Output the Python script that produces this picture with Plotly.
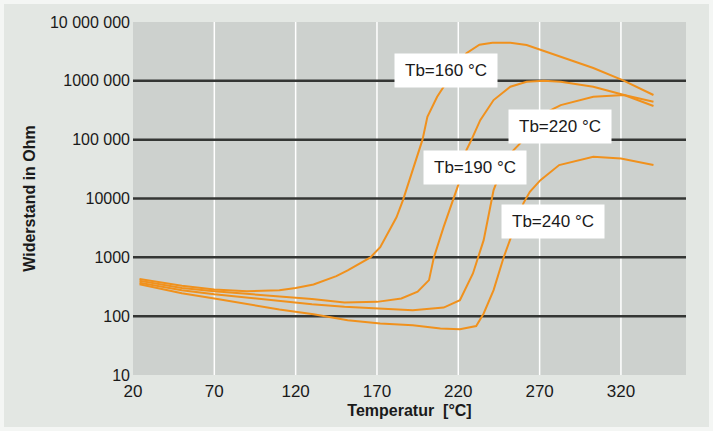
import math
import plotly.graph_objects as go

# --- data ---
t_160 = [24, 50, 70, 90, 110, 120, 131, 145, 152, 166, 172, 182, 186, 192, 198, 201, 207, 211, 218, 225, 233, 241, 252, 262, 272, 283, 303, 321, 340]
r_160 = [430, 330, 285, 265, 275, 300, 345, 480, 600, 1000, 1490, 4800, 9400, 30000, 100000, 245000, 537000, 794000, 1600000, 2940000, 4100000, 4450000, 4450000, 4070000, 3250000, 2570000, 1650000, 1030000, 574000]

t_190 = [24, 50, 70, 90, 110, 130, 150, 170, 185, 195, 202, 205, 211, 217, 221, 225, 228, 233.5, 241.7, 252, 262, 272.5, 283, 303, 322, 340]
r_190 = [400, 300, 265, 240, 220, 195, 170, 175, 200, 260, 410, 1000, 3300, 9400, 20500, 66500, 98000, 215000, 471000, 794000, 966000, 1000000, 966000, 794000, 574000, 373000]

t_220 = [24, 50, 70, 90, 110, 130, 150, 170, 192, 211, 221, 229, 235.6, 241.7, 248, 254, 258, 265, 272, 279, 283, 303, 322, 340]
r_220 = [370, 275, 235, 205, 180, 160, 145, 135, 126, 140, 187, 532, 1960, 13900, 40000, 66500, 86500, 180000, 270000, 340000, 387000, 537000, 574000, 441000]

t_240 = [24, 50, 70, 90, 110, 121, 131, 152, 172, 192, 209, 221, 231, 235.6, 241.7, 248, 252, 260, 264, 270.5, 282, 303, 320, 340]
r_240 = [350, 245, 200, 160, 130, 118, 108, 85, 75, 70, 62, 60, 68, 111, 277, 1020, 2100, 8260, 13000, 20500, 37000, 51000, 48000, 37000]

x_ticks = [20, 70, 120, 170, 220, 270, 320]
y_tickvals = [10, 100, 1000, 10000, 100000, 1000000, 10000000]
y_ticktext = ["10", "100", "1000", "10000", "100 000", "1000 000", "10 000 000"]

labels = ["Tb=160 °C", "Tb=220 °C", "Tb=190 °C", "Tb=240 °C"]
label_t = [212.6, 282.8, 230.5, 278.5]
label_r = [1.47e6, 1.70e5, 3.42e4, 4.13e3]

ORANGE = "#f0911d"
FONT = "Liberation Sans, Arial, sans-serif"
TXT = "#1a1a1a"

fig = go.Figure()
for t, r in [(t_160, r_160), (t_190, r_190), (t_220, r_220), (t_240, r_240)]:
    fig.add_trace(go.Scatter(x=t, y=r, mode="lines",
                             line=dict(color=ORANGE, width=2), hoverinfo="skip",
                             showlegend=False))

W, H = 713, 431
L, R, T, B = 133, 27, 22, 56
pw, ph = W - L - R, H - T - B

shapes = []
# outer frame (light grey panel with a thin white edge)
shapes.append(dict(type="rect", xref="paper", yref="paper", layer="below",
                   x0=(4 - L) / pw, x1=(W - 4 - L) / pw,
                   y0=-(H - 4 - (H - B)) / ph, y1=1 + (T - 4) / ph,
                   fillcolor="#e3e7e3", line=dict(width=0)))
# plot area
shapes.append(dict(type="rect", xref="paper", yref="paper", layer="below",
                   x0=0, x1=1, y0=0, y1=1, fillcolor="#cdd1ce", line=dict(width=0)))
# grid lines
for xv in x_ticks[1:]:
    shapes.append(dict(type="line", xref="x", yref="paper", x0=xv, x1=xv, y0=0, y1=1,
                       line=dict(color="white", width=1.5), layer="below"))
for yv in y_tickvals[1:-1]:
    shapes.append(dict(type="line", xref="paper", yref="y", x0=0, x1=1, y0=yv, y1=yv,
                       line=dict(color="#343634", width=2.5), layer="below"))

annotations = []
for txt, tx, ry in zip(labels, label_t, label_r):
    annotations.append(dict(x=tx, y=math.log10(ry), xref="x", yref="y", text=txt,
                            showarrow=False, bgcolor="white", width=100, height=31,
                            font=dict(family=FONT, size=17, color=TXT)))

fig.update_layout(
    width=W, height=H,
    margin=dict(l=L, r=R, t=T, b=B),
    paper_bgcolor="#f4f6f4",
    plot_bgcolor="rgba(0,0,0,0)",
    shapes=shapes,
    annotations=annotations,
    font=dict(family=FONT, color=TXT),
    hovermode=False,
    xaxis=dict(range=[20, 360], tickvals=x_ticks, showgrid=False, zeroline=False,
               ticks="", tickfont=dict(size=17, color=TXT), ticklabelstandoff=4,
               title=dict(text="<b>Temperatur  [°C]</b>", font=dict(size=16), standoff=4)),
    yaxis=dict(type="log", range=[1, 7], tickvals=y_tickvals, ticktext=y_ticktext,
               showgrid=False, zeroline=False, ticks="", ticklabelstandoff=2,
               tickfont=dict(size=16, color=TXT),
               title=dict(text="<b>Widerstand in Ohm</b>", font=dict(size=16), standoff=10)),
)

fig.write_html("out.html", config={"displayModeBar": False},
               post_script="document.body.style.margin='0px';")
